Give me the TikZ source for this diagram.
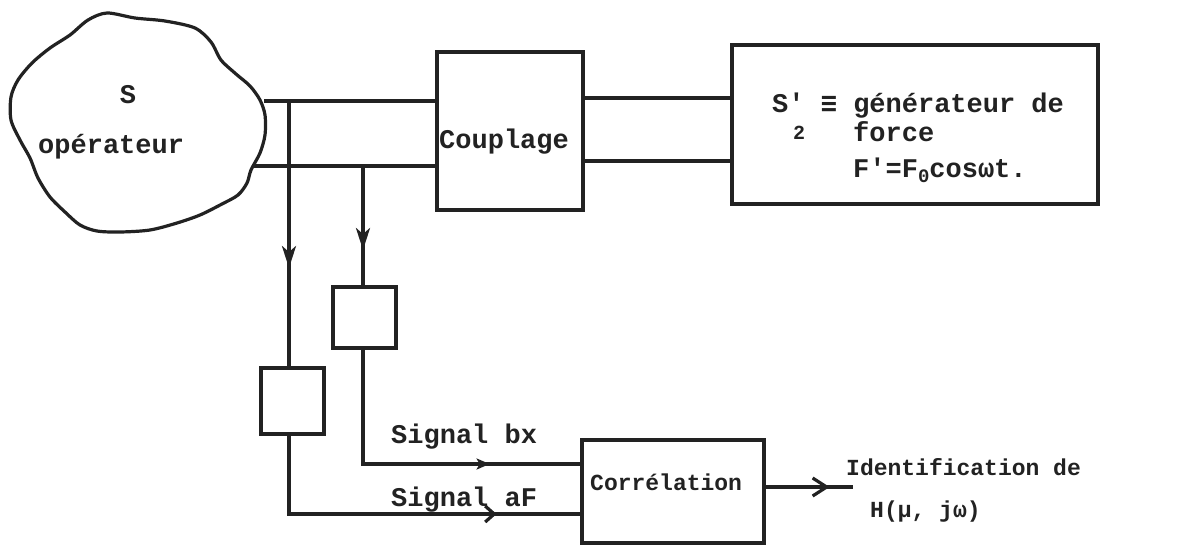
\documentclass[tikz,border=0pt]{standalone}
\usepackage{fontspec}
\setmainfont{Liberation Mono}
\newfontfamily\symfont{DejaVu Sans Mono}
\usetikzlibrary{arrows.meta,decorations.markings}
\definecolor{ink}{HTML}{222222}
\tikzset{
  wire/.style={draw=ink, line width=3.2pt},
  box/.style={draw=ink, line width=3.2pt, rectangle, inner sep=0pt},
  lbl/.style={text=ink, font=\fontsize{27}{30}\selectfont\bfseries, inner sep=0pt},
  lbls/.style={text=ink, font=\fontsize{23}{26}\selectfont\bfseries, inner sep=0pt},
  midarrow/.style 2 args={postaction={decorate}, decoration={markings, mark=at position #1 with {\arrow{#2}}}}
}
\begin{document}
\begin{tikzpicture}[x=1pt,y=-1pt]
\useasboundingbox[fill=white] (0,0) rectangle (1191,547);
% operator blob
\draw[ink, line width=3.2pt] plot[smooth cycle, tension=0.5] coordinates {
 (107,13) (135,18) (165,21) (195,28) (211,42) (221,60) (236,74) (250,86)
 (260,100) (265,115) (265,135) (260,153) (251,170) (247,183) (238,195)
 (222,204) (200,215) (177,223) (150,230) (120,232) (97,231) (80,225)
 (65,212) (50,197) (38,178) (30,158) (20,140) (11,120) (11,97) (18,80)
 (32,63) (50,48) (70,35) (88,20)};
\node[lbl, anchor=base] (sT) at (128,103) {S};
\node[lbl, anchor=base west] (opT) at (38,153) {opérateur};
\coordinate (sA) at (264,101);
\coordinate (sB) at (253,166);

% boxes
\node[box, minimum width=146pt, minimum height=158pt] (coupl) at (510,131) {};
\node[lbl, anchor=base west] (coupT) at (439,148) {Couplage};
\node[box, minimum width=366pt, minimum height=159pt] (sgen) at (915,124.5) {};
\node[lbl, anchor=base west] (sl1) at (772,112) {S\textquotesingle{} {\symfont\bfseries≡} générateur de};
\node[text=ink, font=\fontsize{20}{21}\selectfont\bfseries, inner sep=0pt, anchor=base] (sub2) at (799,139) {2};
\node[lbl, anchor=base west] (sl2) at (853,141) {force};
\node[lbl, anchor=base west] (sl3) at (853,177) {F\textquotesingle{}=F\raisebox{-5pt}{\fontsize{19}{20}\selectfont 0}cosωt.};
\node[box, minimum width=63pt, minimum height=61pt] (box2) at (364.5,317.5) {};
\node[box, minimum width=63pt, minimum height=66pt] (box1) at (292.5,401) {};
\node[box, minimum width=182pt, minimum height=103pt] (corr) at (673,491.5) {};
\node[lbls, anchor=base west] (corrT) at (590,490) {Corrélation};

% junctions
\coordinate (j1) at (289,101);
\coordinate (j2) at (363,166);
\coordinate (k1) at (289,514);
\coordinate (k2) at (363,464);
\coordinate (outE) at (853,487);

% connectors blob - couplage - generator
\draw[wire] (sA) -- (sA -| coupl.west);
\draw[wire] (sB) -- (sB -| coupl.west);
\draw[wire] (coupl.east |- 0,98) -- (sgen.west |- 0,98);
\draw[wire] (coupl.east |- 0,161) -- (sgen.west |- 0,161);

% vertical branches
\draw[wire, midarrow={167pt}{Stealth[length=22pt,width=14pt,inset=6pt]}] (j1) -- (j1 |- box1.north);
\draw[wire, midarrow={84pt}{Stealth[length=22pt,width=14pt,inset=6pt]}] (j2) -- (j2 |- box2.north);

% signals to correlation
\draw[wire, midarrow={241pt}{Stealth[length=13pt,width=11pt,inset=3pt]}] (j2 |- box2.south) -- (k2) -- (k2 -| corr.west);
\draw[wire, midarrow={286pt}{Straight Barb[length=9pt,width=16pt]}] (j1 |- box1.south) -- (k1) -- (k1 -| corr.west);
\node[lbl, anchor=base west] (sigb) at (391,443) {Signal bx};
\node[lbl, anchor=base west] (siga) at (391,506) {Signal aF};

% output
\draw[wire, midarrow={64pt}{Straight Barb[length=14pt,width=18pt]}] (corr.east |- outE) -- (outE);
\node[lbls, anchor=base west] (idT) at (846,475) {Identification de};
\node[lbls, anchor=base west] (hT) at (870,517) {H(µ, jω)};
\end{tikzpicture}
\end{document}
